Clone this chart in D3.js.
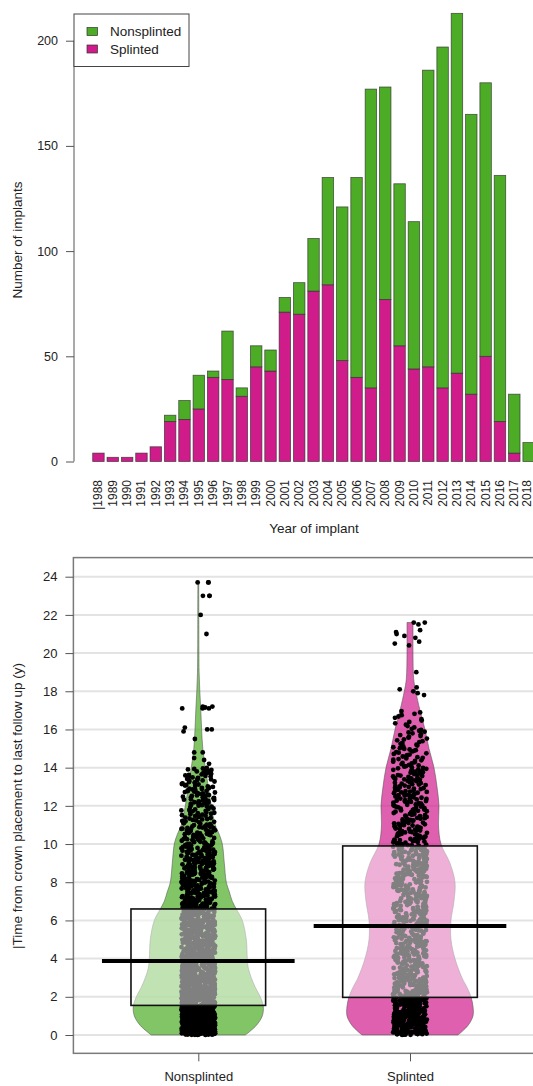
<!DOCTYPE html>
<html>
<head>
<meta charset="utf-8">
<script src="https://cdn.jsdelivr.net/npm/d3@7"></script>
<style>
  body { margin: 0; background: #fff; }
  svg { display: block; font-family: "Liberation Sans", Arial, sans-serif; }
</style>
</head>
<body>
<svg id="chart" width="533" height="1086"></svg>
<script>
// ── Data: implants per year (top panel) ────────────────────────────────────

const YEARS = [1988, 1989, 1990, 1991, 1992, 1993, 1994, 1995, 1996, 1997, 1998,
  1999, 2000, 2001, 2002, 2003, 2004, 2005, 2006, 2007, 2008, 2009, 2010, 2011,
  2012, 2013, 2014, 2015, 2016, 2017, 2018];
const SPLINTED = [4, 2, 2, 4, 7, 19, 20, 25, 40, 39, 31, 45, 43, 71, 70, 81, 84,
  48, 40, 35, 77, 55, 44, 45, 35, 42, 32, 50, 19, 4, 0];
const NONSPLINTED = [0, 0, 0, 0, 0, 3, 9, 16, 3, 23, 4, 10, 10, 7, 15, 25, 51,
  73, 95, 142, 101, 77, 70, 141, 162, 171, 133, 130, 117, 28, 9];
const BAR_TICKS = [0, 50, 100, 150, 200];
const YEAR_LABELS = YEARS.map((y, i) => (i === 0 ? '|' + y : String(y)));

// ── Data: follow-up time (bottom panel) ────────────────────────────────────

const GROUPS = ['Nonsplinted', 'Splinted'];
const MEANS = [3.87, 5.71];
const BAND_LOW = [1.55, 1.97];
const BAND_HIGH = [6.6, 9.9];
const TIME_TICKS = [0, 2, 4, 6, 8, 10, 12, 14, 16, 18, 20, 22, 24];

// bean outline: years and relative density
const NS_DENS_Y = [0, 0.5, 1, 1.5, 2, 2.5, 3, 3.5, 4, 5, 6, 6.6, 7, 7.5, 8, 9,
  10, 10.5, 11, 12, 13, 14, 15, 16, 17, 18, 19, 20, 22, 23.7];
const NS_DENS = [47, 58, 64, 65, 62, 57, 53, 50, 49, 48, 44, 38, 34, 31, 28, 26,
  24, 21, 17, 13, 10, 7, 4.5, 3.3, 2.5, 1.5, 0.8, 0.6, 0.5, 0.4];
const S_DENS_Y = [0, 0.5, 1, 1.5, 2, 2.5, 3, 4, 5, 6, 7, 8, 9, 10, 11, 12, 13,
  14, 15, 16, 17, 18, 18.5, 19, 20, 21, 21.6];
const S_DENS = [48, 58, 63, 63, 61, 57, 52, 45, 41, 41, 44, 45, 40, 31, 28.5, 29,
  27, 24, 19, 15, 10, 5.7, 4, 3.3, 3, 3, 3];

// observations: counts per 1-year bin from 0, plus the sparse upper tail
const NS_BIN_COUNTS = [250, 220, 180, 150, 140, 135, 115, 90, 75, 65, 55, 40, 45, 38];
const NS_TAIL = [14.2, 14.4, 14.5, 14.8, 14.8, 15.5, 15.9, 16.0, 16.0, 16.1,
  17.1, 17.1, 17.15, 17.2, 17.2, 17.1, 21.0, 22.0, 23.0, 23.0, 23.0, 23.7, 23.7, 23.7];
const S_BIN_COUNTS = [150, 125, 90, 75, 68, 64, 64, 68, 66, 58, 50, 44, 46, 40, 30, 22, 14];
const S_TAIL = [17.8, 17.9, 18.0, 18.1, 18.2, 19.0, 20.4, 20.5, 20.6, 20.8, 20.9,
  21.0, 21.1, 21.2, 21.5, 21.6, 21.6];

// ── Helpers ────────────────────────────────────────────────────────────────

function seededRandom(seed) {
  const x = Math.sin(seed) * 10000;
  return x - Math.floor(x);
}

function expandBins(counts, tail) {
  const values = [];
  counts.forEach((n, b) => {
    for (let j = 0; j < n; j++) values.push(b + (j + 0.5) / n);
  });
  return values.concat(tail);
}

const COLORS = { Nonsplinted: '#4dac26', Splinted: '#d01c8b' };
const TEXT = '#222';

const svg = d3.select('#chart');

// ── Top panel: stacked bars ────────────────────────────────────────────────

const barRows = YEARS.map((year, i) => ({
  year, Splinted: SPLINTED[i], Nonsplinted: NONSPLINTED[i],
}));

const xBar = d3.scaleBand()
  .domain(YEARS)
  .range([92.7 - 1.43, 92.7 + 31 * 14.34 - 1.43])
  .paddingInner(0.2)
  .paddingOuter(0.1);

const yBar = d3.scaleLinear().domain([0, 200]).range([461.5, 40.7]);

const stack = d3.stack().keys(['Splinted', 'Nonsplinted'])(barRows);

const barPanel = svg.append('g').attr('class', 'bars');

barPanel.selectAll('g.layer')
  .data(stack)
  .join('g')
  .attr('class', 'layer')
  .attr('fill', (d) => COLORS[d.key])
  .selectAll('rect')
  .data((d) => d.filter((s) => s[1] - s[0] > 0))
  .join('rect')
  .attr('x', (d) => xBar(d.data.year))
  .attr('width', xBar.bandwidth())
  .attr('y', (d) => yBar(d[1]))
  .attr('height', (d) => yBar(d[0]) - yBar(d[1]))
  .attr('stroke', '#2b2b2b')
  .attr('stroke-opacity', 0.75)
  .attr('stroke-width', 0.8);

// y axis (R style: line spans tick range only)
const yAxisTop = barPanel.append('g')
  .attr('transform', 'translate(74,0)')
  .call(d3.axisLeft(yBar).tickValues(BAR_TICKS).tickSize(8).tickPadding(8));
yAxisTop.select('.domain').attr('stroke', '#555').attr('d', `M0,${yBar(0)}V${yBar(200)}`);
yAxisTop.selectAll('.tick line').attr('stroke', '#555');
yAxisTop.selectAll('.tick text')
  .attr('font-size', 12.5)
  .attr('fill', TEXT)
  .attr('font-family', null);

// rotated year labels (last one nudged so it stays inside the window)
barPanel.append('g')
  .selectAll('text')
  .data(YEARS)
  .join('text')
  .attr('transform', (d, i) => {
    const cx = Math.min(xBar(d) + xBar.bandwidth() / 2, 527);
    return `translate(${cx},480) rotate(-90)`;
  })
  .attr('text-anchor', 'end')
  .attr('dominant-baseline', 'central')
  .attr('font-size', 12)
  .attr('fill', TEXT)
  .text((d, i) => YEAR_LABELS[i]);

barPanel.append('text')
  .attr('x', 314)
  .attr('y', 533)
  .attr('text-anchor', 'middle')
  .attr('font-size', 13.5)
  .attr('fill', TEXT)
  .text('Year of implant');

barPanel.append('text')
  .attr('transform', 'translate(22,240) rotate(-90)')
  .attr('text-anchor', 'middle')
  .attr('font-size', 13.5)
  .attr('fill', TEXT)
  .text('Number of implants');

// legend
const legend = barPanel.append('g').attr('class', 'legend');
legend.append('rect')
  .attr('x', 74).attr('y', 14).attr('width', 115).attr('height', 52.5)
  .attr('fill', '#fff').attr('stroke', '#444').attr('stroke-width', 1);
['Nonsplinted', 'Splinted'].forEach((key, i) => {
  legend.append('rect')
    .attr('x', 87).attr('y', 27.5 + i * 17.5).attr('width', 10.5).attr('height', 8)
    .attr('fill', COLORS[key]).attr('stroke', '#333').attr('stroke-width', 0.7);
  legend.append('text')
    .attr('x', 110).attr('y', 36 + i * 17.5)
    .attr('font-size', 13.5).attr('fill', TEXT)
    .text(key);
});

// ── Bottom panel: pirate plot ──────────────────────────────────────────────

const xPir = d3.scaleLinear().domain([1, 2]).range([198.3, 410]);
const yPir = d3.scaleLinear().domain([0, 24]).range([1035, 576.7]);
const dens = d3.scaleLinear().domain([0, 65]).range([0, 0.307]);

const box = { x0: xPir(0.41), x1: xPir(2.585), y0: yPir(25), y1: yPir(-0.96) };
const piratePanel = svg.append('g').attr('class', 'pirate');

// grid
piratePanel.append('g')
  .selectAll('line')
  .data(TIME_TICKS)
  .join('line')
  .attr('x1', box.x0).attr('x2', box.x1)
  .attr('y1', (d) => yPir(d)).attr('y2', (d) => yPir(d))
  .attr('stroke', '#e3e3e3').attr('stroke-width', 2);

const beans = [
  { name: 'Nonsplinted', ys: NS_DENS_Y, ds: NS_DENS, pts: expandBins(NS_BIN_COUNTS, NS_TAIL) },
  { name: 'Splinted', ys: S_DENS_Y, ds: S_DENS, pts: expandBins(S_BIN_COUNTS, S_TAIL) },
];

beans.forEach((bean, gi) => {
  const c = gi + 1;
  const profile = bean.ys.map((y, i) => ({ y, d: bean.ds[i] }));

  const area = d3.area()
    .y((p) => yPir(p.y))
    .x0((p) => xPir(c - dens(p.d)))
    .x1((p) => xPir(c + dens(p.d)))
    .curve(d3.curveCatmullRom);

  piratePanel.append('path')
    .datum(profile)
    .attr('d', area)
    .attr('fill', COLORS[bean.name])
    .attr('fill-opacity', 0.7)
    .attr('stroke', '#555')
    .attr('stroke-opacity', 0.7)
    .attr('stroke-width', 0.8);

  piratePanel.append('g')
    .selectAll('circle')
    .data(bean.pts)
    .join('circle')
    .attr('cx', (v, i) => xPir(c + (seededRandom(i * 7.13 + gi * 101 + 1) - 0.5) * 0.16))
    .attr('cy', (v) => yPir(v))
    .attr('r', 2.4)
    .attr('fill', '#000');
});

// inference bands, means
GROUPS.forEach((name, gi) => {
  const c = gi + 1;
  piratePanel.append('rect')
    .attr('x', xPir(c - 0.318))
    .attr('width', xPir(c + 0.318) - xPir(c - 0.318))
    .attr('y', yPir(BAND_HIGH[gi]))
    .attr('height', yPir(BAND_LOW[gi]) - yPir(BAND_HIGH[gi]))
    .attr('fill', '#fff')
    .attr('fill-opacity', 0.5)
    .attr('stroke', '#111')
    .attr('stroke-width', 1.6);

  piratePanel.append('line')
    .attr('x1', xPir(c - 0.455)).attr('x2', xPir(c + 0.455))
    .attr('y1', yPir(MEANS[gi])).attr('y2', yPir(MEANS[gi]))
    .attr('stroke', '#000')
    .attr('stroke-width', 4);
});

// frame
piratePanel.append('rect')
  .attr('x', box.x0).attr('y', box.y0)
  .attr('width', box.x1 - box.x0).attr('height', box.y1 - box.y0)
  .attr('fill', 'none').attr('stroke', '#7a7a7a').attr('stroke-width', 1.5);

// y axis
const yAxisBot = piratePanel.append('g')
  .attr('transform', `translate(${box.x0},0)`)
  .call(d3.axisLeft(yPir).tickValues(TIME_TICKS).tickSize(8).tickPadding(8));
yAxisBot.select('.domain').remove();
yAxisBot.selectAll('.tick line').attr('stroke', '#555');
yAxisBot.selectAll('.tick text')
  .attr('font-size', 13)
  .attr('fill', TEXT)
  .attr('font-family', null);

// x axis
const xAxisBot = piratePanel.append('g')
  .attr('transform', `translate(0,${box.y1})`)
  .call(d3.axisBottom(xPir).tickValues([1, 2]).tickFormat((d) => GROUPS[d - 1])
    .tickSize(8).tickPadding(10));
xAxisBot.select('.domain').remove();
xAxisBot.selectAll('.tick line').attr('stroke', '#555');
xAxisBot.selectAll('.tick text')
  .attr('font-size', 13)
  .attr('fill', TEXT)
  .attr('font-family', null);

piratePanel.append('text')
  .attr('transform', 'translate(22,806) rotate(-90)')
  .attr('text-anchor', 'middle')
  .attr('font-size', 13.5)
  .attr('fill', TEXT)
  .text('|Time from crown placement to last follow up (y)');
</script>
</body>
</html>
